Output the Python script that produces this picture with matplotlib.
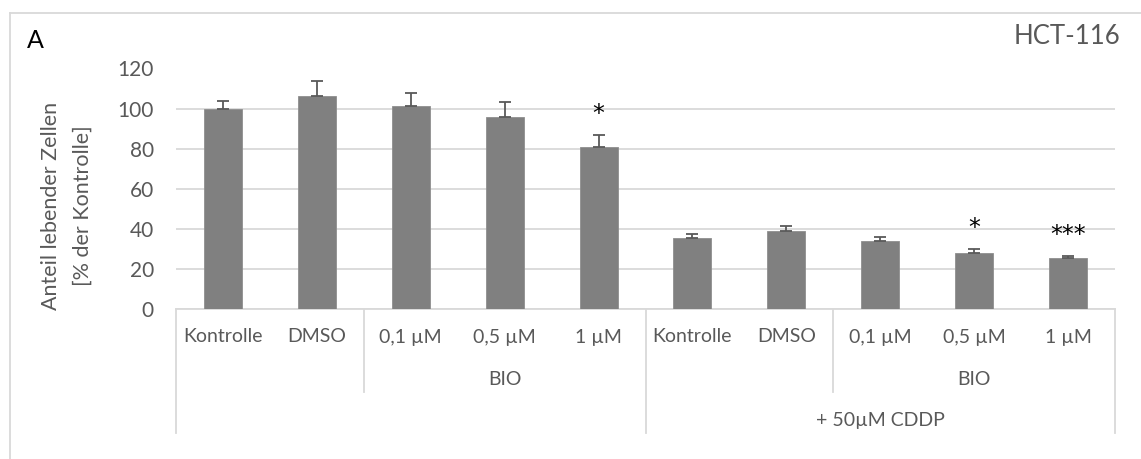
import matplotlib
matplotlib.use("Agg")
import matplotlib.pyplot as plt
from matplotlib.lines import Line2D
from matplotlib.transforms import blended_transform_factory
import numpy as np

# Treatments (level 1), substance groups (level 2), cisplatin groups (level 3)
categories = ["Kontrolle", "DMSO", "0,1 µM", "0,5 µM", "1 µM",
              "Kontrolle", "DMSO", "0,1 µM", "0,5 µM", "1 µM"]
level2_groups = [("BIO", 2, 4), ("BIO", 7, 9)]
level3_groups = [("", 0, 4), ("+ 50µM CDDP", 5, 9)]
viability = [100.0, 106.5, 101.1, 96.0, 80.7, 35.3, 38.8, 34.1, 27.8, 25.3]
sd = [3.9, 7.4, 6.5, 7.3, 6.1, 2.0, 2.6, 2.0, 2.3, 1.3]
significance = ["", "", "", "", "*", "", "", "", "*", "***"]
yticks = [0, 20, 40, 60, 80, 100, 120]

FONT = ["Lato", "DejaVu Sans"]
plt.rcParams["font.family"] = FONT
TXT = "#595959"
GRID = "#d9d9d9"

W, H = 1141, 459
fig = plt.figure(figsize=(W / 100, H / 100), dpi=100)

x0, x1 = 176, 1115
y_base, y_top = 309, 68.5
ax = fig.add_axes([x0 / W, 1 - y_base / H, (x1 - x0) / W, (y_base - y_top) / H])

n = len(categories)
x = np.arange(n)
ax.bar(x, viability, width=0.405, color="#808080", edgecolor="#8f8f8f",
       linewidth=0.6, zorder=3)
ax.errorbar(x, viability, yerr=[np.zeros(n), sd], fmt="none", ecolor="#595959",
            elinewidth=1.3, capsize=4.3, capthick=1.3, zorder=4)

for xi, v, e, s in zip(x, viability, sd, significance):
    if s:
        ax.annotate(s, (xi, v + e), xytext=(0, 15), textcoords="offset points",
                    ha="center", va="center", fontsize=17, color="black",
                    family=["DejaVu Sans"])

ax.set_xlim(-0.5, n - 0.5)
ax.set_ylim(0, 120)
ax.set_yticks(yticks)
ax.set_yticklabels([str(t) for t in yticks])
ax.tick_params(axis="y", length=0, pad=16, labelsize=15, labelcolor=TXT)
ax.set_xticks([])
ax.grid(axis="y", color=GRID, linewidth=1.3, zorder=0)
for sp in ["top", "right", "left"]:
    ax.spines[sp].set_visible(False)
ax.spines["bottom"].set_color(GRID)
ax.spines["bottom"].set_linewidth(1.3)

# Multi-level category axis below the plot
px = 1.0 / (y_base - y_top)  # one pixel in axes-y units
tr = blended_transform_factory(ax.transData, ax.transAxes)


def vline(xd, y_end_px):
    ax.add_line(Line2D([xd, xd], [0, -(y_end_px - y_base) * px], transform=tr,
                       color=GRID, linewidth=1.3, clip_on=False))


for xi, lab in zip(x, categories):
    ax.text(xi, -(337 - y_base) * px, lab, transform=tr, ha="center",
            va="center", fontsize=14, color=TXT)
for lab, a, b in level2_groups:
    ax.text((a + b) / 2, -(379 - y_base) * px, lab, transform=tr, ha="center",
            va="center", fontsize=14, color=TXT)
    vline(a - 0.5, 392)
for lab, a, b in level3_groups:
    ax.text((a + b) / 2, -(420 - y_base) * px, lab, transform=tr, ha="center",
            va="center", fontsize=14, color=TXT)
    vline(a - 0.5, 433)
vline(n - 0.5, 433)

# Y-axis title in two lines
fig.text(51 / W, 1 - 206 / H, "Anteil lebender Zellen", rotation=90,
         ha="center", va="center", fontsize=15.5, color=TXT)
fig.text(83 / W, 1 - 206 / H, "[% der Kontrolle]", rotation=90,
         ha="center", va="center", fontsize=15.5, color=TXT)

# Panel letter and cell line
fig.text(27 / W, 1 - 40 / H, "A", ha="left", va="center", fontsize=18,
         color="black")
fig.text(1120 / W, 1 - 37 / H, "HCT-116", ha="right", va="center",
         fontsize=18.5, color=TXT)

# Chart frame
fig.add_artist(Line2D([10 / W, 1], [1 - 13 / H, 1 - 13 / H],
                      transform=fig.transFigure, color=GRID, linewidth=1.3))
fig.add_artist(Line2D([10 / W, 10 / W], [1 - 13 / H, 0],
                      transform=fig.transFigure, color=GRID, linewidth=1.3))

fig.savefig("out.png", dpi=100)
